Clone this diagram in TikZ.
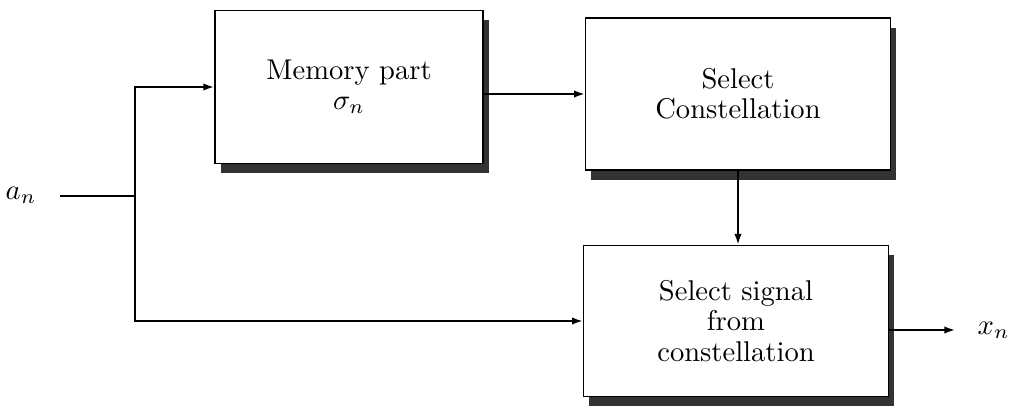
\documentclass[tikz,border=0pt]{standalone}
\usetikzlibrary{arrows.meta, positioning, shadows}

\begin{document}
\begin{tikzpicture}[
  x=0.0123cm, y=-0.0123cm,
  line width=0.6pt,
  block/.style={draw, fill=white, align=center, inner sep=2pt,
    font=\linespread{0.88}\selectfont,
    drop shadow={shadow xshift=0.07cm, shadow yshift=-0.12cm,
                 fill=black!80, opacity=1}},
  wire/.style={-{Latex[length=1.3mm, width=0.9mm]}},
  ]
\useasboundingbox (0,0) rectangle (1011,409);

% the three blocks
\node[block, minimum width=3.30cm, minimum height=1.88cm] (mem) at (349,87)
  {Memory part\\$\sigma_n$};
\node[block, minimum width=3.75cm, minimum height=1.87cm] (con) at (738,94)
  {Select\\Constellation};
\node[block, minimum width=3.75cm, minimum height=1.86cm] (sig) at (736,321)
  {Select signal\\from\\constellation};

% input and output
\node (an) at (21,195) {$a_n$};
\coordinate (in) at (60,196);
\coordinate (split) at (135,196);
\node[anchor=west, inner sep=1pt] (xn) at (974,330) {$x_n$};
\coordinate (out) at (955,330);

% connections
\draw (in) -- (split);
\draw[wire] (split) |- (mem.west);
\draw[wire] (split) |- (sig.west);
\draw[wire] (mem.east |- con.west) -- (con.west);
\draw[wire] (con.south) -- (con.south |- sig.north);
\draw[wire] (sig.east |- out) -- (out);
\end{tikzpicture}
\end{document}
